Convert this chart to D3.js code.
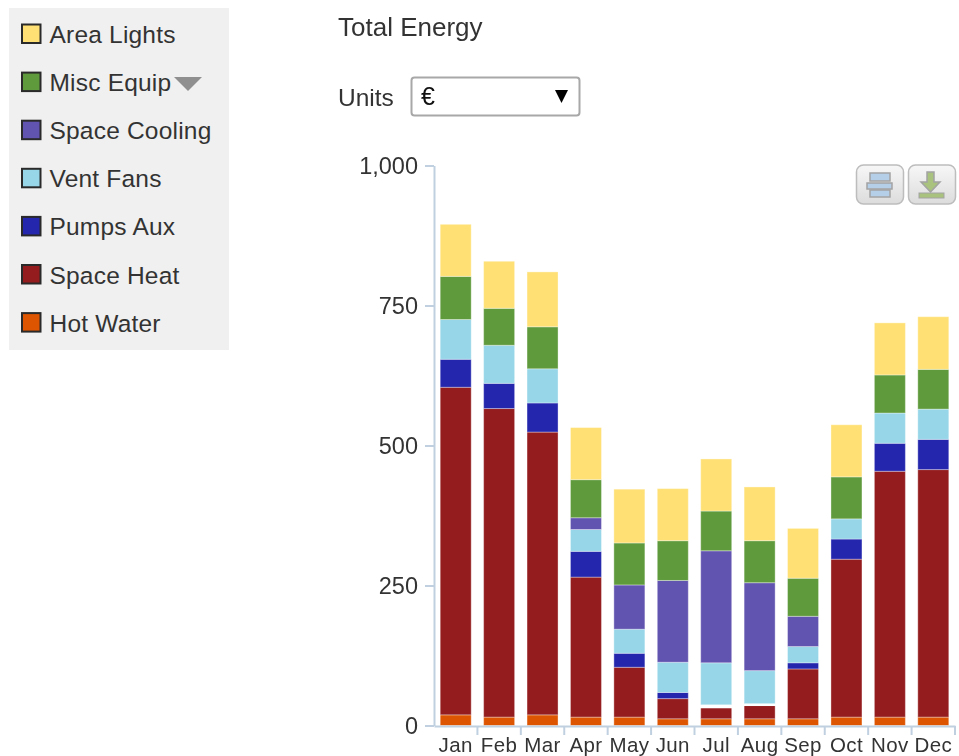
<!DOCTYPE html>
<html><head><meta charset="utf-8">
<script src="https://cdn.jsdelivr.net/npm/d3@7"></script>
<style>
html,body{margin:0;padding:0;background:#fff;overflow:hidden}
svg{display:block;filter:blur(0.45px)}
text{font-family:"Liberation Sans",Arial,sans-serif;fill:#333}
</style></head><body>
<svg id="c" width="959" height="756"></svg>
<script>
const months=["Jan","Feb","Mar","Apr","May","Jun","Jul","Aug","Sep","Oct","Nov","Dec"];
const hotWater=[19,15,19,15,15,12,12,12,12,15,15,15];
const spaceHeat=[585,551,505,250,89,36,21,25,89,282,439,442];
const pumpsAux=[50,45,52,46,25,11,4,2,11,36,50,54];
const ventFans=[71,68,61,39,43,54,75,59,29,36,54,54];
const spaceCooling=[0,0,0,21,79,146,200,157,54,0,0,0];
const miscEquip=[77,66,75,68,75,71,71,75,68,75,68,71];
const areaLights=[93,84,98,93,96,93,93,96,89,93,93,94];
const seriesNames=["Hot Water","Space Heat","Pumps Aux","Vent Fans","Space Cooling","Misc Equip","Area Lights"];
const seriesValues=[hotWater,spaceHeat,pumpsAux,ventFans,spaceCooling,miscEquip,areaLights];
const seriesColors=["#dd5500","#941c1e","#2426ae","#96d6e8","#6153b0","#5f9a3c","#ffe074"];
const yTicks=[0,250,500,750,1000];
const chartTitle="Total Energy", unitsLabel="Units", unitsValue="€";

const svg=d3.select("#c");
const x=d3.scaleBand().domain(months).range([434,955]).paddingInner(0.286).paddingOuter(0.143);
const y=d3.scaleLinear().domain([0,1000]).range([725.5,165.5]);

// legend
svg.append("rect").attr("x",9).attr("y",8).attr("width",220).attr("height",342).attr("fill","#f0f0f0");
const legendOrder=seriesNames.map((n,i)=>({n,c:seriesColors[i]})).reverse();
const lg=svg.append("g").selectAll("g").data(legendOrder).join("g")
  .attr("transform",(d,i)=>`translate(0,${34+i*48.1})`);
lg.append("rect").attr("x",22).attr("y",-9.5).attr("width",18.5).attr("height",18.5)
  .attr("fill",d=>d.c).attr("stroke","#2a2a2a").attr("stroke-width",2);
lg.append("text").attr("x",49.5).attr("y",9).attr("font-size",24.5).attr("letter-spacing",0.2).text(d=>d.n);
svg.append("path").attr("d","M174,77H202L188,91Z").attr("fill","#8f8f8f");

// header
svg.append("text").attr("x",338).attr("y",36).attr("font-size",26).text(chartTitle);
svg.append("text").attr("x",338).attr("y",106).attr("font-size",24.5).text(unitsLabel);
svg.append("rect").attr("x",411.5).attr("y",77.5).attr("width",168).attr("height",38).attr("rx",3)
  .attr("fill","#fff").attr("stroke","#a8a8a8").attr("stroke-width",2);
svg.append("text").attr("x",421).attr("y",105).attr("font-size",25).attr("style","fill:#111").text(unitsValue);
svg.append("path").attr("d","M555,90H568L561.5,103Z").attr("fill","#000");

// bars
const rows=months.map((m,i)=>{const o={m};seriesNames.forEach((n,k)=>o[n]=seriesValues[k][i]);return o;});
const stacked=d3.stack().keys(seriesNames)(rows);
const thin=d=>y(d[0])-y(d[1])<3;
svg.append("g").selectAll("g").data(stacked).join("g")
  .attr("fill",(d,i)=>seriesColors[i])
  .selectAll("rect").data(d=>d.filter(p=>p[1]>p[0])).join("rect")
  .attr("x",d=>x(d.data.m)).attr("width",x.bandwidth())
  .attr("y",d=>y(d[1])).attr("height",d=>y(d[0])-y(d[1]))
  .attr("stroke","#fff").attr("stroke-opacity",d=>thin(d)?1:0.35).attr("stroke-width",d=>thin(d)?2.5:1);

// axes
const axisColor="#c0d0e0";
const yAxis=d3.axisLeft(y).tickValues(yTicks).tickFormat(d3.format(",")).tickSize(9).tickSizeOuter(0).tickPadding(7);
const gy=svg.append("g").attr("transform","translate(434,0)").call(yAxis);
const xAxis=d3.axisBottom(x).tickSize(0).tickSizeOuter(0).tickPadding(11);
const gx=svg.append("g").attr("transform","translate(0,726)").call(xAxis);
gx.selectAll(".tick").append("line")
  .attr("x1",x.step()/2).attr("x2",x.step()/2).attr("y1",0).attr("y2",9)
  .attr("stroke",axisColor).attr("stroke-width",2);
[gx,gy].forEach(g=>{
  g.select(".domain").attr("stroke",axisColor).attr("stroke-width",2);
  g.selectAll(".tick line").attr("stroke",axisColor).attr("stroke-width",2);
  g.selectAll("text").attr("style","fill:#333");
});
gy.attr("font-size",23.5).attr("font-family",null);
gx.attr("font-size",20.5).attr("font-family",null).attr("letter-spacing",0.4);

// export buttons
const defs=svg.append("defs");
const gr=defs.append("linearGradient").attr("id","bt").attr("x1",0).attr("x2",0).attr("y1",0).attr("y2",1);
gr.append("stop").attr("offset","0").attr("stop-color","#f7f7f7");
gr.append("stop").attr("offset","1").attr("stop-color","#dcdcdc");
[856.5,908.5].forEach(bx=>svg.append("rect").attr("x",bx).attr("y",165).attr("width",47).attr("height",39).attr("rx",7)
  .attr("fill","url(#bt)").attr("stroke","#bdbdbd").attr("stroke-width",1.5));
const pr=svg.append("g").attr("fill","#b6cfe8").attr("stroke","#a3a3a3").attr("stroke-width",1.5);
pr.append("rect").attr("x",870).attr("y",173).attr("width",20).attr("height",8);
pr.append("rect").attr("x",867).attr("y",183).attr("width",25).attr("height",6);
pr.append("rect").attr("x",870).attr("y",190).attr("width",20).attr("height",7);
svg.append("path").attr("d","M927,172H934V182H940L930.5,192L921,182H927Z").attr("fill","#a9c27e").attr("stroke","#a3a3a3").attr("stroke-width",1.5);
svg.append("rect").attr("x",919).attr("y",193).attr("width",25).attr("height",5).attr("fill","#a9c27e").attr("stroke","#a3a3a3").attr("stroke-width",1);
</script></body></html>
